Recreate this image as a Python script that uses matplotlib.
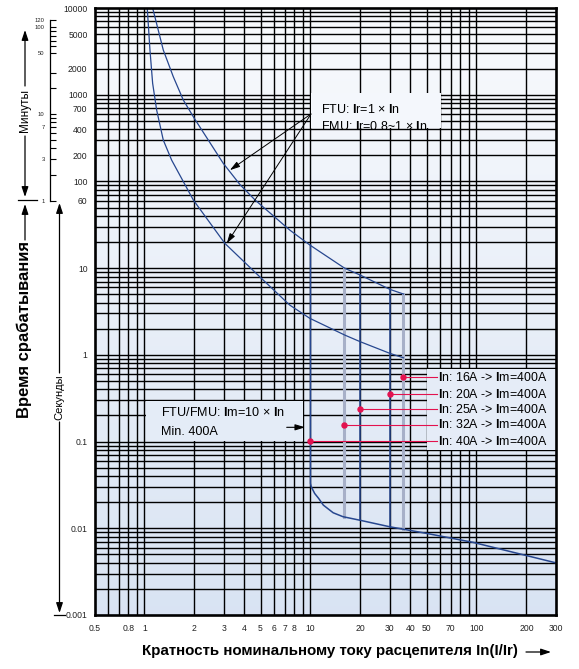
import numpy as np
import matplotlib
matplotlib.use("Agg")
import matplotlib.pyplot as plt
from matplotlib.patches import Rectangle, FancyArrowPatch
from matplotlib.lines import Line2D
from matplotlib.ticker import NullLocator, NullFormatter

plt.rcParams['font.family'] = ['Liberation Sans', 'DejaVu Sans']
plt.rcParams['mathtext.fontset'] = 'custom'
plt.rcParams['mathtext.rm'] = 'Liberation Sans'
plt.rcParams['mathtext.bf'] = 'Liberation Sans:bold'

# long time curves (multiple of Ir, seconds)
upper_x = [1.12, 1.298, 1.491, 1.713, 1.996, 2.98, 3.76, 4.64, 7.5, 9.9, 16.1, 19.9, 30.1, 36.3]
upper_t = [10000, 3279, 1614, 869, 534, 162, 92, 61, 27.5, 18.5, 9.95, 8.33, 5.69, 5.03]
lower_x = [1.039, 1.079, 1.120, 1.184, 1.298, 1.458, 1.97, 3.05, 5.0, 7.5, 9.9, 16.1, 19.9, 30.1, 36.3]
lower_t = [10000, 3279, 1353, 666, 300, 176, 61, 19.3, 7.8, 3.75, 2.64, 1.69, 1.42, 1.04, 0.925]

# instantaneous trip (starts with the vertical at 10 x In)
inst_x = [10, 10, 10.1, 10.6, 11.2, 11.95, 13.7, 15.7, 19.8, 30.1, 50.1, 95.7, 300]
inst_t = [18.5, 0.033, 0.0302, 0.0252, 0.0221, 0.0185, 0.0151, 0.0136, 0.0124, 0.0104, 0.00873, 0.00687, 0.0040]

# vertical drops for other ratings
drop_x = [16, 20, 30, 36]
drop_top = [9.95, 8.33, 5.69, 5.03]
drop_bot = [0.0136, 0.0124, 0.0104, 0.0098]
drop_gray = [True, False, False, True]

# red markers and their labels
dot_x = [36, 30, 20, 16, 10]
dot_t = [0.55, 0.35, 0.237, 0.156, 0.101]
dot_in = ["16A", "20A", "25A", "32A", "40A"]

x_ticks = [0.5, 0.8, 1, 2, 3, 4, 5, 6, 7, 8, 10, 20, 30, 40, 50, 70, 100, 200, 300]
x_labels = ["0.5", "0.8", "1", "2", "3", "4", "5", "6", "7", "8", "10", "20", "30",
            "40", "50", "70", "100", "200", "300"]
y_ticks = [10000, 5000, 2000, 1000, 700, 400, 200, 100, 60, 10, 1, 0.1, 0.01, 0.001]
y_labels = ["10000", "5000", "2000", "1000", "700", "400", "200", "100", "60",
            "10", "1", "0.1", "0.01", "0.001"]
minute_major = [120, 100, 50, 10, 7, 3, 1]
minute_minor = [90, 80, 70, 60, 30, 20, 9, 8, 6, 5, 4, 2]

BLUE = '#27478f'
GRAY = '#a7b0c8'
RED = '#e3124f'

W, H = 579, 669
fig = plt.figure(figsize=(W / 100, H / 100), dpi=100)


def fx(px):
    return px / W


def fy(py):
    return 1 - py / H


L, R, T, B = 94.5, 555.7, 8, 615
rect = [fx(L), fy(B), fx(R) - fx(L), fy(T) - fy(B)]

# background gradient
c_top = np.array([0.975, 0.981, 0.993])
c_bot = np.array([0.851, 0.893, 0.953])
g = np.linspace(0, 1, 256)[:, None, None]
bg = fig.add_axes(rect, zorder=0)
bg.imshow(c_top + g * (c_bot - c_top), aspect='auto', extent=[0, 1, 0, 1])
bg.axis('off')


def bgcol(frac_from_top):
    return tuple(c_top + frac_from_top * (c_bot - c_top))


ax = fig.add_axes(rect, zorder=1)
ax.patch.set_visible(False)
ax.set_xscale('log')
ax.set_yscale('log')
ax.set_xlim(0.5, 300)
ax.set_ylim(0.001, 10000)

for n in range(-1, 3):
    for k in range(1, 10):
        v = k * 10.0 ** n
        if 0.5 < v < 299:
            ax.axvline(v, color='k', lw=1.0, zorder=1)
for n in range(-3, 4):
    for k in range(1, 10):
        v = k * 10.0 ** n
        if 0.001 < v < 9999:
            ax.axhline(v, color='k', lw=1.0, zorder=1)

ax.set_xticks(x_ticks, x_labels)
ax.set_yticks(y_ticks, y_labels)
ax.xaxis.set_minor_locator(NullLocator())
ax.yaxis.set_minor_locator(NullLocator())
ax.tick_params(axis='x', length=0, pad=6.5, labelsize=6.2, labelcolor='#222222')
ax.tick_params(axis='y', length=0, pad=5, labelsize=6.2, labelcolor='#222222')
for s in ax.spines.values():
    s.set_linewidth(1.9)
    s.set_zorder(6)

# curves
ax.plot(upper_x, upper_t, color=BLUE, lw=0.9, zorder=3)
ax.plot(lower_x, lower_t, color=BLUE, lw=0.9, zorder=3)
ax.plot(inst_x, inst_t, color=BLUE, lw=1.1, zorder=3)
for x, t0, t1, gr in zip(drop_x, drop_top, drop_bot, drop_gray):
    if gr:
        ax.plot([x, x], [t0, t1], color=GRAY, lw=2.2, zorder=2.8)
    else:
        ax.plot([x, x], [t0, t1], color=BLUE, lw=1.1, zorder=3)

# box 1
ax.add_patch(Rectangle((10.07, 413), 60.9 - 10.07, 1038 - 413, facecolor=bgcol(0.15),
                       edgecolor='none', zorder=4))
ax.text(11.5, 684, r"FTU: $\mathbf{I}$r=1 × $\mathbf{I}$n", fontsize=9, va='center', zorder=5)
ax.text(11.5, 428, r"FMU: $\mathbf{I}$r=0.8~1 × $\mathbf{I}$n", fontsize=9, va='center', zorder=5)
for tx, tt in [(3.27, 135), (3.13, 19.3)]:
    ax.annotate('', xy=(tx, tt), xytext=(10.07, 599),
                arrowprops=dict(arrowstyle='-|>,head_length=0.6,head_width=0.18', color='k',
                                lw=0.7, shrinkA=0, shrinkB=0, mutation_scale=10), zorder=5)

# box 2
ax.add_patch(Rectangle((1.02, 0.101), 9.06 - 1.02, 0.296 - 0.101, facecolor=bgcol(0.65),
                       edgecolor='none', zorder=4))
ax.text(1.25, 0.215, r"FTU/FMU: $\mathbf{I}$m=10 × $\mathbf{I}$n", fontsize=9.1, va='center', zorder=5)
ax.text(1.25, 0.130, "Min. 400A", fontsize=9.1, va='center', zorder=5)
ax.annotate('', xy=(9.3, 0.146), xytext=(7.19, 0.146),
            arrowprops=dict(arrowstyle='-|>,head_length=0.6,head_width=0.18', color='k',
                            lw=0.8, shrinkA=0, shrinkB=0, mutation_scale=10), zorder=5)

# box 3
ax.add_patch(Rectangle((50.1, 0.0798), 300 - 50.1, 0.686 - 0.0798, facecolor=bgcol(0.63),
                       edgecolor='none', zorder=4))
for x, t, lab in zip(dot_x, dot_t, dot_in):
    ax.plot([x, 57.6], [t, t], color=RED, lw=0.8, zorder=5)
    ax.plot(x, t, 'o', color=RED, ms=3.6, zorder=5.5)
    ax.text(58.6, t, r"$\mathbf{I}$n: " + lab + r" -> $\mathbf{I}$m=400A", fontsize=8.9,
            va='center', zorder=5)

# minutes scale
axm = fig.add_axes([fx(49.5), fy(B), 1e-4, fy(T) - fy(B)], zorder=1)
axm.set_yscale('log')
axm.set_ylim(0.001, 10000)
axm.patch.set_visible(False)
for s in ['top', 'right', 'bottom']:
    axm.spines[s].set_visible(False)
axm.spines['left'].set_bounds(60, 7200)
axm.spines['left'].set_linewidth(0.9)
axm.set_xticks([])
axm.set_yticks([m * 60 for m in minute_major], [str(m) for m in minute_major])
axm.set_yticks([m * 60 for m in minute_minor], minor=True)
axm.yaxis.set_minor_formatter(NullFormatter())
axm.tick_params(axis='y', which='both', direction='in', length=4, width=0.8, pad=3.5,
                labelsize=4.2, labelcolor='#222222')


def farrow(x0, y0, x1, y1):
    fig.add_artist(FancyArrowPatch((fx(x0), fy(y0)), (fx(x1), fy(y1)), transform=fig.transFigure,
                                   arrowstyle='-|>,head_length=0.6,head_width=0.2',
                                   mutation_scale=10, lw=0.9, color='k',
                                   shrinkA=0, shrinkB=0))


def fline(x0, y0, x1, y1):
    fig.add_artist(Line2D([fx(x0), fx(x1)], [fy(y0), fy(y1)], transform=fig.transFigure,
                          color='k', lw=0.9))


fline(18, 200, 37, 200)
farrow(25, 86, 25, 30)
farrow(25, 136, 25, 197)
fig.text(fx(25), fy(111), "Минуты", rotation=90, ha='center', va='center', fontsize=8.5)

farrow(59.5, 373, 59.5, 203)
farrow(59.5, 422, 59.5, 613)
fline(54, 615, 65, 615)
fig.text(fx(59.5), fy(397), "Секунды", rotation=90, ha='center', va='center', fontsize=8)

farrow(25, 240, 25, 204)
fig.text(fx(24), fy(330), "Время срабатывания", rotation=90, ha='center', va='center',
         fontsize=12, fontweight='bold')

fig.text(fx(142), fy(651), "Кратность номинальному току расцепителя In(I/Ir)", ha='left',
         va='center', fontsize=10.9, fontweight='bold')
farrow(526, 652, 551, 652)

fig.savefig("out.png", dpi=100)
